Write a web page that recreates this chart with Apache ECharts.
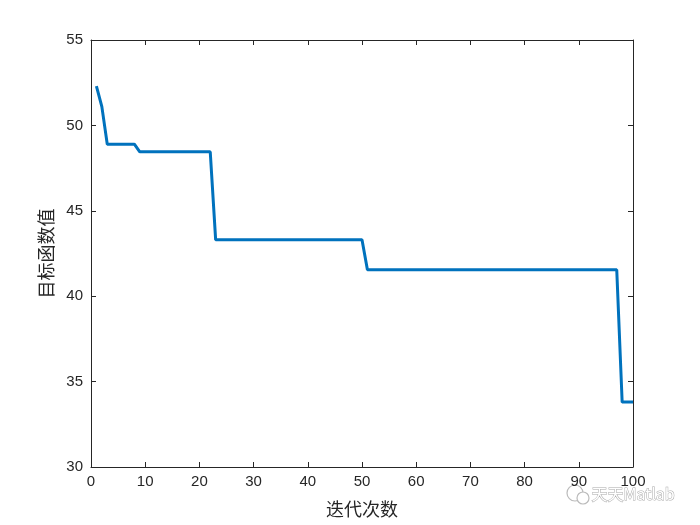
<!DOCTYPE html>
<html>
<head>
<meta charset="utf-8">
<script src="https://cdn.jsdelivr.net/npm/echarts@6/dist/echarts.min.js"></script>
<style>html,body{margin:0;padding:0;background:#fff}#c{width:700px;height:525px}</style>
</head>
<body>
<div id="c"></div>
<script>
const iterations = [1,2,3,4,5,6,7,8,9,10,11,12,13,14,15,16,17,18,19,20,21,22,23,24,25,26,27,28,29,30,31,32,33,34,35,36,37,38,39,40,41,42,43,44,45,46,47,48,49,50,51,52,53,54,55,56,57,58,59,60,61,62,63,64,65,66,67,68,69,70,71,72,73,74,75,76,77,78,79,80,81,82,83,84,85,86,87,88,89,90,91,92,93,94,95,96,97,98,99,100];
const objective = [52.3,51.1,48.9,48.9,48.9,48.9,48.9,48.9,48.45,48.45,48.45,48.45,48.45,48.45,48.45,48.45,48.45,48.45,48.45,48.45,48.45,48.45,
43.3,43.3,43.3,43.3,43.3,43.3,43.3,43.3,43.3,43.3,43.3,43.3,43.3,43.3,43.3,43.3,43.3,43.3,43.3,43.3,43.3,43.3,43.3,43.3,43.3,43.3,43.3,43.3,
41.55,41.55,41.55,41.55,41.55,41.55,41.55,41.55,41.55,41.55,41.55,41.55,41.55,41.55,41.55,41.55,41.55,41.55,41.55,41.55,41.55,41.55,41.55,41.55,41.55,41.55,41.55,41.55,41.55,41.55,41.55,41.55,41.55,41.55,41.55,41.55,41.55,41.55,41.55,41.55,41.55,41.55,41.55,41.55,41.55,41.55,41.55,
33.8,33.8,33.8];
const xLabel = '迭代次数';
const yLabel = '目标函数值';
const watermark = '天天Matlab';

const data = iterations.map((x,i)=>[x, objective[i]]);
const chart = echarts.init(document.getElementById('c'));
const txt = '#262626';
const lineStyle = {color: txt, width: 1};
chart.setOption({
  animation: false,
  grid: {left: 91, right: 67, top: 40, bottom: 58},
  xAxis: [{
    type: 'value', min: 0, max: 100, interval: 10,
    position: 'bottom',
    name: xLabel, nameLocation: 'middle', nameGap: 33,
    nameTextStyle: {color: txt, fontSize: 18, fontFamily: 'Noto Sans CJK SC'},
    axisLine: {show: true, lineStyle},
    axisTick: {show: true, inside: true, length: 5, lineStyle},
    axisLabel: {color: txt, fontSize: 15, fontFamily: 'Liberation Sans, Arial', margin: 7},
    splitLine: {show: false}
  },{
    type: 'value', min: 0, max: 100, interval: 10,
    position: 'top',
    axisLine: {show: true, onZero: false, lineStyle},
    axisTick: {show: true, inside: true, length: 5, lineStyle},
    axisLabel: {show: false},
    splitLine: {show: false}
  }],
  yAxis: [{
    type: 'value', min: 30, max: 55, interval: 5,
    position: 'left',
    name: yLabel, nameLocation: 'middle', nameGap: 35,
    nameTextStyle: {color: txt, fontSize: 18, fontFamily: 'Noto Sans CJK SC'},
    axisLine: {show: true, lineStyle},
    axisTick: {show: true, inside: true, length: 5, lineStyle},
    axisLabel: {color: txt, fontSize: 15, fontFamily: 'Liberation Sans, Arial', margin: 8},
    splitLine: {show: false}
  },{
    type: 'value', min: 30, max: 55, interval: 5,
    position: 'right',
    axisLine: {show: true, onZero: false, lineStyle},
    axisTick: {show: true, inside: true, length: 5, lineStyle},
    axisLabel: {show: false},
    splitLine: {show: false}
  }],
  series: [{
    type: 'line', data: data, xAxisIndex: 0, yAxisIndex: 0,
    showSymbol: false, symbol: 'none',
    lineStyle: {color: '#0072BD', width: 3},
    clip: true
  }],
  graphic: [{
    type: 'circle', shape: {cx: 575, cy: 493, r: 8},
    style: {fill: 'none', stroke: '#bbb', lineWidth: 1.2}
  },{
    type: 'circle', shape: {cx: 583, cy: 498, r: 6},
    style: {fill: '#fff', stroke: '#bbb', lineWidth: 1.2}
  },{
    type: 'text', left: 591, top: 485,
    style: {text: watermark, fontSize: 16, fontFamily: 'Noto Sans CJK SC', fill: '#fff', stroke: '#aaa', lineWidth: 1}
  }]
});
</script>
</body>
</html>
